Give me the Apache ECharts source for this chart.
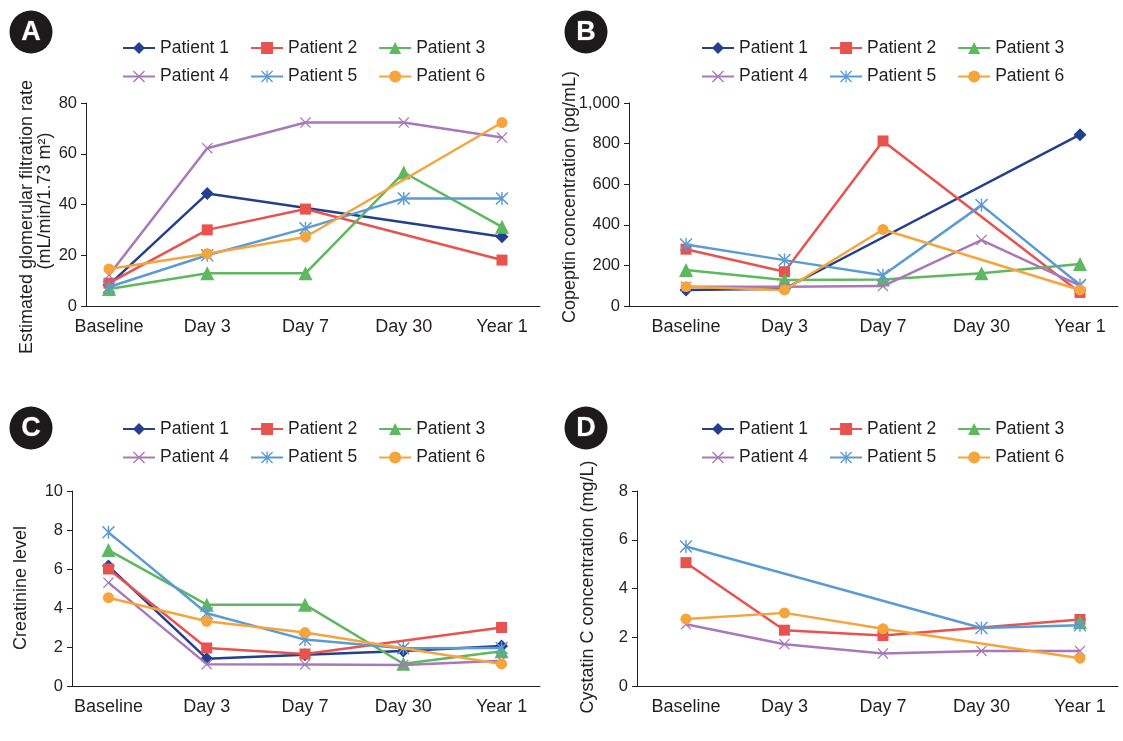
<!DOCTYPE html>
<html>
<head>
<meta charset="utf-8">
<script src="https://cdn.jsdelivr.net/npm/echarts@6/dist/echarts.min.js"></script>
<style>html,body{margin:0;padding:0;background:#fff;}#c{width:1123px;height:741px;}</style>
</head>
<body>
<div id="c"></div>
<script>
// ---------- data ----------
const categories = ['Baseline', 'Day 3', 'Day 7', 'Day 30', 'Year 1'];
const patients = ['Patient 1', 'Patient 2', 'Patient 3', 'Patient 4', 'Patient 5', 'Patient 6'];

// A: eGFR (mL/min/1.73 m2)
const egfrP1 = [8.3, 44.3, null, null, 27.3];
const egfrP2 = [9.0, 30.0, 38.2, null, 18.1];
const egfrP3 = [6.7, 12.9, 12.9, 52.6, 31.2];
const egfrP4 = [12.2, 62.2, 72.3, 72.3, 66.4];
const egfrP5 = [7.5, 20.0, 30.6, 42.4, 42.4];
const egfrP6 = [14.6, 20.6, 27.2, null, 72.3];

// B: Copeptin (pg/mL)
const copP1 = [79, 85, null, null, 844];
const copP2 = [280, 169, 813, null, 67];
const copP3 = [177, 128, 131, 161, 207];
const copP4 = [95, 95, 98, 325, 100];
const copP5 = [303, 226, 152, 497, 103];
const copP6 = [95, 79, 377, null, 79];

// C: Creatinine level
const creP1 = [6.15, 1.4, 1.6, 1.8, 2.05];
const creP2 = [6.0, 1.95, 1.64, null, 3.0];
const creP3 = [6.97, 4.17, 4.17, 1.14, 1.78];
const creP4 = [5.3, 1.12, 1.1, 1.08, 1.3];
const creP5 = [7.88, 3.73, 2.38, 1.93, 1.95];
const creP6 = [4.53, 3.32, 2.74, null, 1.13];

// D: Cystatin C (mg/L)
const cysP1 = [null, null, null, null, null];
const cysP2 = [5.06, 2.29, 2.07, null, 2.73];
const cysP3 = [null, null, null, null, 2.63];
const cysP4 = [2.53, 1.71, 1.33, 1.44, 1.44];
const cysP5 = [5.72, null, null, 2.38, 2.49];
const cysP6 = [2.75, 3.0, 2.35, null, 1.14];

// axis titles
const titleA1 = 'Estimated glomerular filtration rate';
const titleA2 = '(mL/min/1.73 m²)';
const titleB = 'Copeptin concentration (pg/mL)';
const titleC = 'Creatinine level';
const titleD = 'Cystatin C concentration (mg/L)';

// ---------- styles ----------
const colors = ['#233f8e', '#e9534f', '#5db860', '#a878b8', '#5b9bd5', '#f6a43c'];
const crossPath = 'path://M0,0.8 L0.8,0 L5,4.2 L9.2,0 L10,0.8 L5.8,5 L10,9.2 L9.2,10 L5,5.8 L0.8,10 L0,9.2 L4.2,5 Z';
const starPath = 'path://M0,0.8 L0.8,0 L5,4.2 L9.2,0 L10,0.8 L5.8,5 L10,9.2 L9.2,10 L5,5.8 L0.8,10 L0,9.2 L4.2,5 Z M4.45,0 L5.55,0 L5.55,10 L4.45,10 Z';
const symbols = ['diamond', 'rect', 'triangle', crossPath, starPath, 'circle'];
const symbolSizes = [13, 11, 14, 11, 13, 11];
const FONT = '"Liberation Sans", Arial, Helvetica, sans-serif';
const TXT = '#231f20';

const panels = [
  { data: [egfrP1, egfrP2, egfrP3, egfrP4, egfrP5, egfrP6], grid: {left: 86, top: 103, width: 454, height: 203}, xr: [-0.234, 4.387], y: [0, 80, 20], legend: [122, 39], badge: [31, 32, 'A'], fmt: v => v },
  { data: [copP1, copP2, copP3, copP4, copP5, copP6], grid: {left: 629, top: 103, width: 489, height: 203}, xr: [-0.579, 4.386], y: [0, 1000, 200], legend: [701, 39], badge: [586, 32, 'B'], fmt: v => v >= 1000 ? (Math.floor(v/1000) + ',' + String(v%1000).padStart(3,'0')) : v },
  { data: [creP1, creP2, creP3, creP4, creP5, creP6], grid: {left: 72, top: 491, width: 468, height: 195}, xr: [-0.371, 4.391], y: [0, 10, 2], legend: [122, 420], badge: [31, 428, 'C'], fmt: v => v },
  { data: [cysP1, cysP2, cysP3, cysP4, cysP5, cysP6], grid: {left: 637, top: 491, width: 481, height: 195}, xr: [-0.497, 4.386], y: [0, 8, 2], legend: [701, 420], badge: [586, 428, 'D'], fmt: v => v }
];

const titles = [
  [titleA1, 27, 217], [titleA2, 45, 201], [titleB, 570, 197], [titleC, 21, 588], [titleD, 588, 587]
];

const grid = [], xAxis = [], yAxis = [], series = [], legend = [], graphic = [];
panels.forEach((p, k) => {
  grid.push(p.grid);
  xAxis.push({
    type: 'value', gridIndex: k, min: p.xr[0], max: p.xr[1],
    splitLine: {show: false}, axisTick: {show: false},
    axisLine: {show: true, onZero: false, lineStyle: {color: TXT, width: 1}},
    axisLabel: {customValues: [0, 1, 2, 3, 4], formatter: v => categories[Math.round(v)], color: TXT, fontSize: 18, fontFamily: FONT, margin: 12}
  });
  yAxis.push({
    type: 'value', gridIndex: k, min: p.y[0], max: p.y[1], interval: p.y[2],
    splitLine: {show: false},
    axisTick: {show: true, length: 5, lineStyle: {color: TXT}},
    axisLine: {show: true, onZero: false, lineStyle: {color: TXT, width: 1}},
    axisLabel: {color: TXT, fontSize: 16.5, fontFamily: FONT, margin: 9, formatter: p.fmt}
  });
  p.data.forEach((arr, i) => {
    series.push({
      type: 'line', name: patients[i], xAxisIndex: k, yAxisIndex: k,
      data: arr.map((v, j) => [j, v == null ? '-' : v]),
      connectNulls: true,
      symbol: symbols[i], symbolSize: symbolSizes[i], showAllSymbol: true,
      lineStyle: {color: colors[i], width: 2.5},
      itemStyle: {color: colors[i], borderWidth: 0},
      emphasis: {disabled: true}, z: 2 + i
    });
  });
  [[0, 1, 2], [3, 4, 5]].forEach((row, r) => {
    legend.push({
      left: p.legend[0], top: p.legend[1] + r * 28.5, padding: 0,
      data: row.map(i => patients[i]),
      itemWidth: 32, itemHeight: 15, itemGap: 21,
      textStyle: {color: TXT, fontSize: 17.5, fontFamily: FONT},
      selectedMode: false
    });
  });
  graphic.push({type: 'circle', shape: {cx: p.badge[0], cy: p.badge[1], r: 21.5}, style: {fill: '#1c1a1b'}});
  graphic.push({type: 'text', x: p.badge[0], y: p.badge[1] + 1, style: {text: p.badge[2], fill: '#fff', stroke: '#555', lineWidth: 1, font: 'bold 27px ' + FONT, align: 'center', verticalAlign: 'middle'}});
});
titles.forEach(t => {
  graphic.push({type: 'text', x: t[1], y: t[2], rotation: Math.PI / 2,
    style: {text: t[0], fill: TXT, font: '18px ' + FONT, align: 'center', verticalAlign: 'middle'}});
});

const chart = echarts.init(document.getElementById('c'), null, {renderer: 'canvas'});
chart.setOption({
  backgroundColor: '#fff', animation: false, color: colors,
  grid, xAxis, yAxis, series, legend, graphic
});
</script>
</body>
</html>
